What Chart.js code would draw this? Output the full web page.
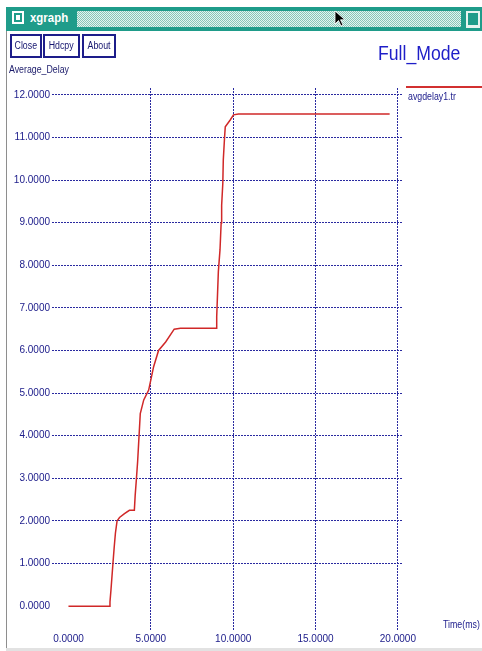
<!DOCTYPE html>
<html>
<head>
<meta charset="utf-8">
<script src="https://cdn.jsdelivr.net/npm/chart.js@4/dist/chart.umd.min.js"></script>
<style>
  html, body { margin: 0; padding: 0; background: #fff; }
  body { width: 482px; height: 651px; position: relative; overflow: hidden;
         font-family: 'Liberation Sans', Arial, sans-serif; }
  #plot { position: absolute; left: 0; top: 0; }
  .abs { position: absolute; white-space: nowrap; }
  .narrow { transform: scaleX(0.88); transform-origin: 0 0; }
  #titlebar { left: 6px; top: 7px; width: 476px; height: 24px; background: #1f9c8a; }
  #winicon { left: 12px; top: 11px; width: 8px; height: 9px; border: 2px solid #fff; }
  #winicon::after { content: ''; position: absolute; left: 2px; top: 2px; width: 4px; height: 5px; background: #fff; }
  #wintitle { left: 30px; top: 10px; color: #fff; font: bold 13px 'Liberation Sans', Arial, sans-serif; }
  #hatch { left: 77px; top: 11px; width: 384px; height: 16px;
           background: repeating-conic-gradient(#e6f3ef 0 25%, #86c6b8 0 50%) 0 0/2px 2px; }
  #maxicon { left: 466px; top: 11px; width: 10px; height: 12px; border: 2px solid #e8f4f0; border-bottom-width: 3px; }
  #leftedge { left: 6px; top: 31px; width: 1px; height: 620px; background: #8e8e8e; }
  #bottomedge { left: 6px; top: 648px; width: 476px; height: 3px; background: #e2e2e2; }
  .btn { top: 34px; height: 20px; border: 2px solid #1d1d8a; color: #14146e; font-size: 10px;
         line-height: 20px; text-align: center; overflow: hidden; }
  .btn span { display: inline-block; transform: scaleX(0.88); }
  #average { left: 9px; top: 64px; font-size: 10px; color: #1a1a6a; }
  #mode { left: 378px; top: 41px; font-size: 21px; color: #1e1ec8; transform: scaleX(0.84); transform-origin: 0 0; }
  #legline { left: 406px; top: 86px; width: 76px; height: 2px; background: #d23030; }
  #legtext { left: 408px; top: 91px; font-size: 10px; color: #1a1a8a; }
  #xname { left: 443px; top: 619px; font-size: 10px; color: #1a1a8a; }
</style>
</head>
<body>
<canvas id="plot" width="482" height="651"></canvas>

<div id="titlebar" class="abs"></div>
<div id="winicon" class="abs"></div>
<div id="wintitle" class="abs narrow">xgraph</div>
<div id="hatch" class="abs"></div>
<div id="maxicon" class="abs"></div>
<svg class="abs" style="left:334px;top:10px" width="14" height="18" viewBox="0 0 14 18">
  <path d="M1 1 L1 14 L4.5 10.5 L7 16 L9 15 L6.5 9.8 L11 9.8 Z" fill="#000" stroke="#fff" stroke-width="0.8"/>
</svg>
<div id="leftedge" class="abs"></div>
<div id="bottomedge" class="abs"></div>

<div class="abs btn" style="left:10px;width:28px"><span>Close</span></div>
<div class="abs btn" style="left:43px;width:33px"><span>Hdcpy</span></div>
<div class="abs btn" style="left:82px;width:30px"><span>About</span></div>
<div id="average" class="abs narrow">Average_Delay</div>
<div id="mode" class="abs">Full_Mode</div>
<div id="legline" class="abs"></div>
<div id="legtext" class="abs narrow"></div>
<div id="xname" class="abs narrow">Time(ms)</div>

<script>
// Trace of average delay versus time
const seriesName = 'avgdelay1.tr';
const timeMs = [0, 2.5, 2.52, 2.58, 2.7, 2.78, 2.85, 2.95, 3.1, 3.4, 3.7, 4.0,
                4.05, 4.12, 4.2, 4.26, 4.36, 4.57, 4.87, 5.17, 5.47, 5.9, 6.42, 6.8,
                8.97, 9.0, 9.1, 9.2, 9.27, 9.3, 9.37, 9.4, 9.48, 9.52, 9.82, 10.02,
                10.32, 19.5];
const avgDelay = [0, 0, 0.1, 0.38, 1.0, 1.4, 1.71, 2.0, 2.08, 2.17, 2.25, 2.25,
                  2.6, 2.96, 3.4, 3.82, 4.52, 4.84, 5.07, 5.62, 6.0, 6.2, 6.5, 6.52,
                  6.52, 6.79, 7.85, 8.36, 8.99, 9.41, 9.92, 10.47, 11.02, 11.25, 11.41, 11.53,
                  11.55, 11.55];
const xTicks = [0, 5, 10, 15, 20];
const yTicks = [0, 1, 2, 3, 4, 5, 6, 7, 8, 9, 10, 11, 12];

document.getElementById('legtext').textContent = seriesName;

const gridColor = '#2a2aa0';
const tickFont = { family: "'Liberation Sans', Arial, sans-serif", size: 10 };
// no grid line through the zero tick on either axis
const gridFor = (ctx) => (ctx.tick && ctx.tick.value === 0) ? 'rgba(0,0,0,0)' : gridColor;

new Chart(document.getElementById('plot'), {
  type: 'scatter',
  data: {
    datasets: [{
      label: seriesName,
      data: timeMs.map((t, i) => ({ x: t, y: avgDelay[i] })),
      showLine: true,
      borderColor: '#d02828',
      borderWidth: 1.5,
      pointRadius: 0,
      tension: 0,
      fill: false
    }]
  },
  options: {
    responsive: false,
    animation: false,
    devicePixelRatio: 1,
    layout: { padding: { left: 0, top: 88, right: 80, bottom: 0 } },
    plugins: { legend: { display: false }, tooltip: { enabled: false } },
    scales: {
      x: {
        type: 'linear', min: -1, max: 20.25,
        afterBuildTicks: (s) => { s.ticks = xTicks.map(v => ({ value: v })); },
        afterFit: (s) => { s.height = 21; },
        border: { display: false, dash: [2, 1] },
        grid: { color: gridFor, lineWidth: 1, drawTicks: false },
        ticks: { padding: 3, color: '#20208c', font: tickFont, maxRotation: 0,
                 autoSkip: false, callback: (v) => Number(v).toFixed(4) }
      },
      y: {
        type: 'linear', min: -0.56, max: 12.16,
        afterBuildTicks: (s) => { s.ticks = yTicks.map(v => ({ value: v })); },
        afterFit: (s) => { s.width = 52; },
        border: { display: false, dash: [2, 1] },
        grid: { color: gridFor, lineWidth: 1, drawTicks: false },
        ticks: { padding: 2, color: '#20208c', font: tickFont,
                 autoSkip: false, callback: (v) => Number(v).toFixed(4) }
      }
    }
  }
});
</script>
</body>
</html>
